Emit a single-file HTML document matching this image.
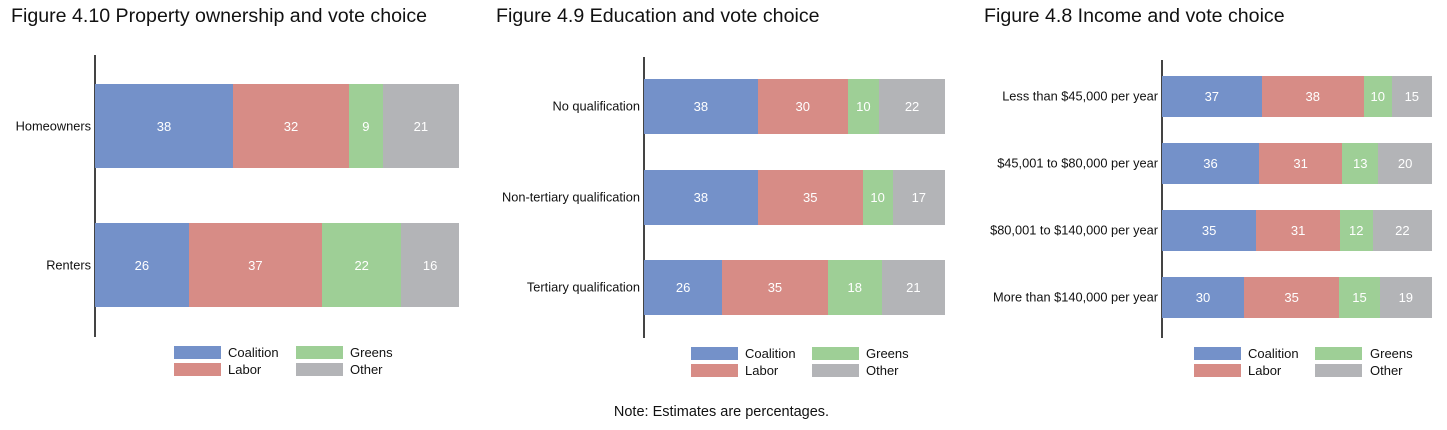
<!DOCTYPE html><html><head><meta charset="utf-8"><style>
body{margin:0;width:1447px;height:430px;background:#fff;font-family:"Liberation Sans",sans-serif;position:relative;overflow:hidden;color:#111}
.a{position:absolute}
.t{font-size:19.6px;white-space:nowrap}
.ax{position:absolute;width:2px;background:#444}
.bar{position:absolute;display:flex}
.bar div{display:flex;align-items:center;justify-content:center;color:#fff;font-size:13px}
.b{background:#7491c9}.r{background:#d78c86}.g{background:#9ecf96}.o{background:#b3b4b7}
.lab{position:absolute;font-size:12.8px;text-align:right;white-space:nowrap;transform:translateY(-50%)}
.sw{position:absolute;width:47px;height:13px}
.lt{position:absolute;font-size:13px;line-height:13px}
</style></head><body>
<div class="a t" style="left:11px;top:5px">Figure 4.10 Property ownership and vote choice</div>
<div class="a t" style="left:496px;top:5px">Figure 4.9 Education and vote choice</div>
<div class="a t" style="left:984px;top:5px">Figure 4.8 Income and vote choice</div>

<!-- chart 1 -->
<div class="ax" style="left:94px;top:55px;height:282px"></div>
<div class="bar" style="left:95px;top:84px;width:364px;height:84px"><div class="b" style="flex:38">38</div><div class="r" style="flex:32">32</div><div class="g" style="flex:9.3">9</div><div class="o" style="flex:21">21</div></div>
<div class="bar" style="left:95px;top:223px;width:364px;height:84px"><div class="b" style="flex:26">26</div><div class="r" style="flex:37">37</div><div class="g" style="flex:22">22</div><div class="o" style="flex:16">16</div></div>
<div class="lab" style="right:1356px;top:126px">Homeowners</div>
<div class="lab" style="right:1356px;top:265px">Renters</div>
<div class="sw b" style="left:174px;top:346px"></div><div class="lt" style="left:228px;top:346px">Coalition</div>
<div class="sw r" style="left:174px;top:363px"></div><div class="lt" style="left:228px;top:363px">Labor</div>
<div class="sw g" style="left:296px;top:346px"></div><div class="lt" style="left:350px;top:346px">Greens</div>
<div class="sw o" style="left:296px;top:363px"></div><div class="lt" style="left:350px;top:363px">Other</div>

<!-- chart 2 -->
<div class="ax" style="left:643px;top:57px;height:281px"></div>
<div class="bar" style="left:644px;top:79px;width:301px;height:55px"><div class="b" style="flex:38">38</div><div class="r" style="flex:30">30</div><div class="g" style="flex:10.5">10</div><div class="o" style="flex:22">22</div></div>
<div class="bar" style="left:644px;top:170px;width:301px;height:55px"><div class="b" style="flex:38">38</div><div class="r" style="flex:35">35</div><div class="g" style="flex:10">10</div><div class="o" style="flex:17.5">17</div></div>
<div class="bar" style="left:644px;top:260px;width:301px;height:55px"><div class="b" style="flex:26">26</div><div class="r" style="flex:35">35</div><div class="g" style="flex:18">18</div><div class="o" style="flex:21">21</div></div>
<div class="lab" style="right:807px;top:106px">No qualification</div>
<div class="lab" style="right:807px;top:197px">Non-tertiary qualification</div>
<div class="lab" style="right:807px;top:287px">Tertiary qualification</div>
<div class="sw b" style="left:691px;top:347px"></div><div class="lt" style="left:745px;top:347px">Coalition</div>
<div class="sw r" style="left:691px;top:364px"></div><div class="lt" style="left:745px;top:364px">Labor</div>
<div class="sw g" style="left:812px;top:347px"></div><div class="lt" style="left:866px;top:347px">Greens</div>
<div class="sw o" style="left:812px;top:364px"></div><div class="lt" style="left:866px;top:364px">Other</div>

<!-- chart 3 -->
<div class="ax" style="left:1161px;top:60px;height:278px"></div>
<div class="bar" style="left:1162px;top:76px;width:270px;height:41px"><div class="b" style="flex:37">37</div><div class="r" style="flex:38">38</div><div class="g" style="flex:10.3">10</div><div class="o" style="flex:15">15</div></div>
<div class="bar" style="left:1162px;top:143px;width:270px;height:41px"><div class="b" style="flex:36">36</div><div class="r" style="flex:31">31</div><div class="g" style="flex:13.3">13</div><div class="o" style="flex:20">20</div></div>
<div class="bar" style="left:1162px;top:210px;width:270px;height:41px"><div class="b" style="flex:35">35</div><div class="r" style="flex:31">31</div><div class="g" style="flex:12.2">12</div><div class="o" style="flex:22">22</div></div>
<div class="bar" style="left:1162px;top:277px;width:270px;height:41px"><div class="b" style="flex:30.5">30</div><div class="r" style="flex:35.5">35</div><div class="g" style="flex:15">15</div><div class="o" style="flex:19.5">19</div></div>
<div class="lab" style="right:289px;top:96px">Less than $45,000 per year</div>
<div class="lab" style="right:289px;top:163px">$45,001 to $80,000 per year</div>
<div class="lab" style="right:289px;top:230px">$80,001 to $140,000 per year</div>
<div class="lab" style="right:289px;top:297px">More than $140,000 per year</div>
<div class="sw b" style="left:1194px;top:347px"></div><div class="lt" style="left:1248px;top:347px">Coalition</div>
<div class="sw r" style="left:1194px;top:364px"></div><div class="lt" style="left:1248px;top:364px">Labor</div>
<div class="sw g" style="left:1315px;top:347px"></div><div class="lt" style="left:1370px;top:347px">Greens</div>
<div class="sw o" style="left:1315px;top:364px"></div><div class="lt" style="left:1370px;top:364px">Other</div>

<div class="a" style="left:0;width:1443px;top:404px;text-align:center;font-size:14.5px">Note: Estimates are percentages.</div>
</body></html>
